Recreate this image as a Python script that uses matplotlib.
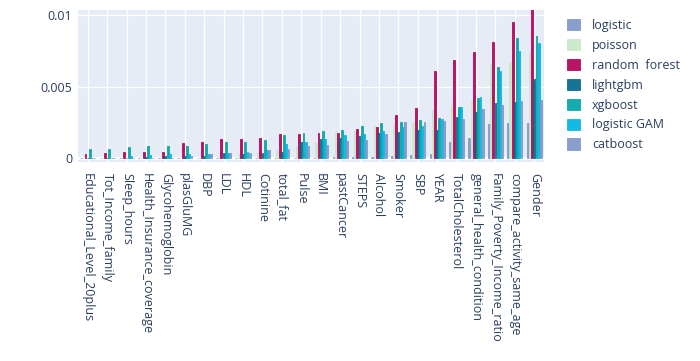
import numpy as np
import matplotlib.pyplot as plt

features = ["Educational_Level_20plus", "Tot_Income_family", "Sleep_hours",
            "Health_Insurance_coverage", "Glycohemoglobin", "plasGluMG", "DBP",
            "LDL", "HDL", "Cotinine", "total_fat", "Pulse", "BMI", "pastCancer",
            "STEPS", "Alcohol", "Smoker", "SBP", "YEAR", "TotalCholesterol",
            "general_health_condition", "Family_Poverty_Income_ratio",
            "compare_activity_same_age", "Gender"]

logistic = [0.00002, 0.00002, 0.00002, 0.00002, 0.00002, 0.00002, 0.00002, 0.00003,
            0.00003, 0.00002, 0.00002, 0.00003, 0.00005, 0.00007, 0.0001, 0.0001,
            0.00014, 0.0002, 0.00028, 0.00114, 0.00145, 0.00236, 0.00243, 0.00247]
poisson = [0.00002, 0.00002, 0.00003, 0.00003, 0.00004, 0.00004, 0.00005, 0.00012,
           0.00033, 0.00044, 0.00061, 0.00084, 0.0011, 0.00189, 0.00191, 0.00224,
           0.00231, 0.00254, 0.00336, 0.00371, 0.00413, 0.00657, 0.00673, 0.00732]
random_forest = [0.00027, 0.00035, 0.00042, 0.00042, 0.00046, 0.0011, 0.00116, 0.00132,
                 0.00138, 0.00142, 0.00168, 0.00168, 0.00173, 0.00179, 0.00203, 0.00215,
                 0.00301, 0.00352, 0.00608, 0.00685, 0.00739, 0.00809, 0.00953, 0.0104]
lightgbm = [0.00003, 0.00003, 0.00005, 0.00012, 0.00015, 0.00016, 0.00019, 0.00035,
            0.00033, 0.00037, 0.00044, 0.00114, 0.00138, 0.00142, 0.00155, 0.00178,
            0.00184, 0.002, 0.002, 0.00285, 0.00324, 0.00387, 0.00394, 0.00552]
xgboost = [0.00062, 0.00066, 0.00077, 0.00084, 0.00086, 0.00089, 0.00098, 0.00112,
           0.00114, 0.00131, 0.00163, 0.00173, 0.00189, 0.00196, 0.00226, 0.00243,
           0.00254, 0.00266, 0.00282, 0.00355, 0.00422, 0.00634, 0.00837, 0.00853]
logistic_gam = [0.00003, 0.00005, 0.00017, 0.00023, 0.0003, 0.00033, 0.00032, 0.00035,
                0.00044, 0.00061, 0.00103, 0.00114, 0.00138, 0.00161, 0.00167, 0.00191,
                0.00215, 0.00226, 0.00273, 0.00355, 0.00429, 0.00608, 0.00748, 0.00806]
catboost = [0.00002, 0.00002, 0.00002, 0.00002, 0.00003, 0.00018, 0.00032, 0.00035,
            0.0004, 0.00056, 0.00065, 0.00084, 0.00091, 0.00121, 0.00131, 0.00166,
            0.0025, 0.00252, 0.00259, 0.00271, 0.00343, 0.00375, 0.00401, 0.00406]

models = ["logistic", "poisson", "random  forest", "lightgbm", "xgboost",
          "logistic GAM", "catboost"]
series = [logistic, poisson, random_forest, lightgbm, xgboost, logistic_gam, catboost]
colors = ["#7f96c8", "#c8e8c8", "#b4005a", "#00698c", "#00a5a5", "#00b4e1", "#7f96c8"]

plt.rcParams["font.family"] = ["Open Sans", "DejaVu Sans"]
txt = "#2a3f5f"

fig = plt.figure(figsize=(7, 3.61), dpi=100)
ax = fig.add_axes([78 / 700, 1 - 162 / 361, (544 - 78) / 700, (162 - 10) / 361])
ax.set_facecolor("#E5ECF6")

x = np.arange(len(features))
step = 0.8 / len(models)
for i, (name, vals, c) in enumerate(zip(models, series, colors)):
    off = (i - (len(models) - 1) / 2) * step
    ax.bar(x + off, vals, width=step * 0.85, color=c, alpha=0.92,
           edgecolor=c, linewidth=0.6, label=name, zorder=3)

ax.set_xlim(-0.5, len(features) - 0.5)
ax.set_ylim(-0.00026, 0.01035)
ax.set_yticks([0, 0.005, 0.01])
ax.set_yticklabels(["0", "0.005", "0.01"])
ax.set_xticks(x)
ax.set_xticklabels(features, rotation=-90, ha="center", va="top")
ax.tick_params(length=0, labelsize=9, labelcolor=txt, pad=4)
ax.tick_params(axis="x", pad=8)
ax.grid(True, color="white", linewidth=1, zorder=0)
ax.axhline(0, color="white", linewidth=2, zorder=1)
for s in ax.spines.values():
    s.set_visible(False)
ax.set_axisbelow(True)

fig.legend(loc="upper left", bbox_to_anchor=(562 / 700, 1 - 14 / 361), frameon=False,
           fontsize=9, labelcolor=txt, handlelength=1.0, handleheight=1.0,
           handletextpad=1.0, labelspacing=0.55, borderaxespad=0)

fig.savefig("out.png", dpi=100)
